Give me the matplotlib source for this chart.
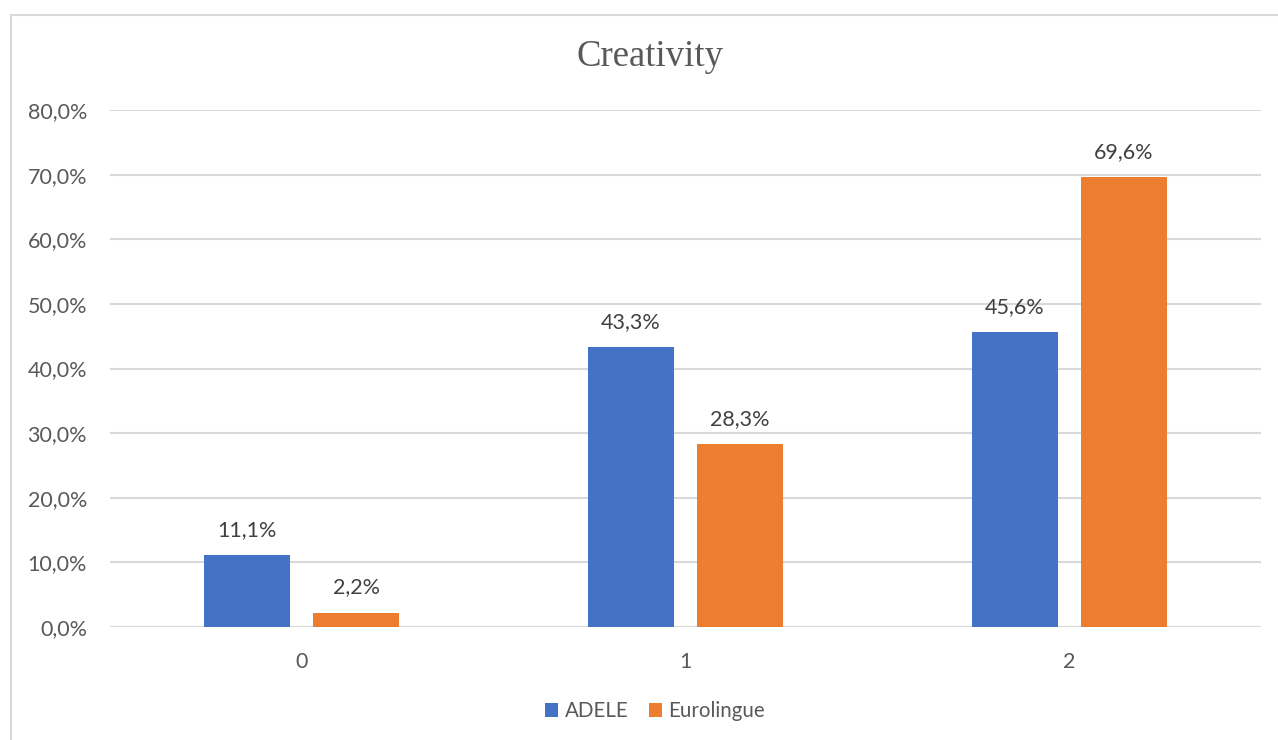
import matplotlib
matplotlib.use("Agg")
import matplotlib.pyplot as plt
from matplotlib.patches import Rectangle
from matplotlib.ticker import FuncFormatter
import numpy as np

categories = ["0", "1", "2"]
adele = [11.1, 43.3, 45.6]
eurolingue = [2.2, 28.3, 69.6]
series_names = ["ADELE", "Eurolingue"]
title = "Creativity"

BLUE = "#4472C4"
ORANGE = "#ED7D31"
GRID = "#D9D9D9"
TEXT = "#595959"

plt.rcParams["font.family"] = ["Lato", "DejaVu Sans"]

W, H = 1278, 740
fig = plt.figure(figsize=(W / 100, H / 100), dpi=100)
fig.patch.set_facecolor("white")

# outer chart frame (extends past the right and bottom edges)
fig.patches.append(Rectangle((11 / W, -0.05), 1.2, 1 - 15 / H + 0.05,
                             transform=fig.transFigure, fill=False,
                             edgecolor=GRID, linewidth=1.5, zorder=0))

ax = fig.add_axes([110 / W, 1 - 627 / H, (1261 - 110) / W, (627 - 110) / H])
x = np.arange(len(categories))
bw = 0.224
off = 0.142
b1 = ax.bar(x - off, adele, bw, color=BLUE, label=series_names[0], zorder=3)
b2 = ax.bar(x + off, eurolingue, bw, color=ORANGE, label=series_names[1], zorder=3)

for bars, vals in ((b1, adele), (b2, eurolingue)):
    for rect, v in zip(bars, vals):
        ax.annotate(f"{v:.1f}%".replace(".", ","),
                    (rect.get_x() + rect.get_width() / 2, v),
                    xytext=(0, 11), textcoords="offset points",
                    ha="center", va="bottom", fontsize=15.5, color="#404040")

ax.set_xlim(-0.5, 2.5)
ax.set_ylim(0, 80)
ax.set_yticks(np.arange(0, 81, 10))
ax.yaxis.set_major_formatter(FuncFormatter(lambda v, p: f"{v:.1f}%".replace(".", ",")))
ax.set_xticks(x)
ax.set_xticklabels(categories)
ax.tick_params(axis="both", length=0, labelsize=15.5, labelcolor=TEXT)
ax.tick_params(axis="y", pad=16.5)
ax.tick_params(axis="x", pad=18)
ax.grid(axis="y", color=GRID, linewidth=1.5, zorder=0)
for s in ax.spines.values():
    s.set_visible(False)
ax.set_facecolor("none")

fig.text(650 / W, 1 - 57 / H, title, ha="center", va="center",
         fontsize=26.5, color=TEXT, family=["Liberation Serif", "DejaVu Serif"])

fig.legend(handles=[b1, b2], labels=series_names, loc="center",
           bbox_to_anchor=(655 / W, 1 - 711 / H), ncol=2, frameon=False,
           fontsize=14.8, labelcolor=TEXT, handlelength=0.65, handleheight=0.65,
           handletextpad=0.3, columnspacing=1.0)

fig.savefig("out.png", dpi=100, facecolor="white")
